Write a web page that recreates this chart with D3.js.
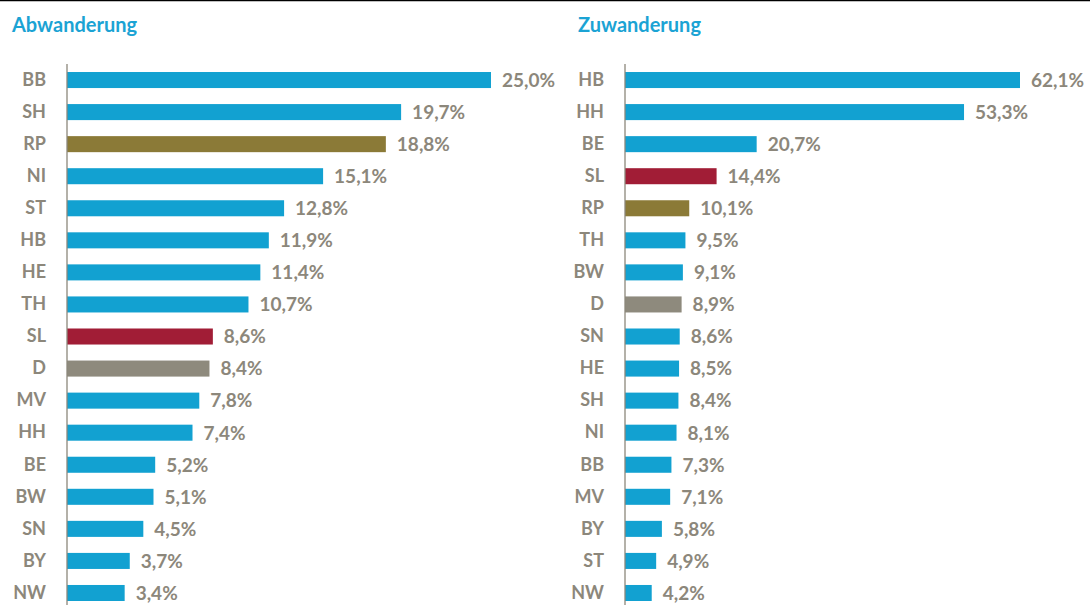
<!DOCTYPE html>
<html>
<head>
<meta charset="utf-8">
<script src="https://cdn.jsdelivr.net/npm/d3@7"></script>
<style>
  body { margin: 0; background: #fff; }
  text { font-family: Lato, "Open Sans", sans-serif; font-weight: bold; }
</style>
</head>
<body>
<div id="chart"></div>
<script>
// Abwanderung (left panel)
const outStates = ["BB","SH","RP","NI","ST","HB","HE","TH","SL","D","MV","HH","BE","BW","SN","BY","NW"];
const outValues = [25.0,19.7,18.8,15.1,12.8,11.9,11.4,10.7,8.6,8.4,7.8,7.4,5.2,5.1,4.5,3.7,3.4];

// Zuwanderung (right panel)
const inStates = ["HB","HH","BE","SL","RP","TH","BW","D","SN","HE","SH","NI","BB","MV","BY","ST","NW"];
const inValues = [62.1,53.3,20.7,14.4,10.1,9.5,9.1,8.9,8.6,8.5,8.4,8.1,7.3,7.1,5.8,4.9,4.2];

const svgWidth = 1090;
const svgHeight = 605;

const colors = {
  base: "#12a1d1",
  RP: "#8b7a37",
  SL: "#a11d36",
  D: "#8e8a7d"
};
const textGrey = "#8c877b";
const titleBlue = "#1ba3d4";

const svg = d3.select("#chart")
  .append("svg")
  .attr("width", svgWidth)
  .attr("height", svgHeight);

// thin top border line
svg.append("line")
  .attr("x1", 0).attr("x2", svgWidth)
  .attr("y1", 0.5).attr("y2", 0.5)
  .attr("stroke", "#000")
  .attr("stroke-width", 1.5);

function drawPanel(title, states, values, opts) {
  const g = svg.append("g");

  const x = d3.scaleLinear()
    .domain([0, opts.max])
    .range([opts.x0, opts.x1]);

  const y = d3.scaleBand()
    .domain(states)
    .range([64, 64 + states.length * 32.06])
    .paddingInner(0.5)
    .paddingOuter(0.25);

  g.append("text")
    .attr("x", opts.titleX)
    .attr("y", 32)
    .attr("fill", titleBlue)
    .attr("font-size", 20)
    .text(title);

  g.selectAll("rect")
    .data(states)
    .enter()
    .append("rect")
    .attr("x", x(0))
    .attr("y", d => y(d))
    .attr("width", (d, i) => x(values[i]) - x(0))
    .attr("height", y.bandwidth())
    .attr("fill", d => colors[d] || colors.base);

  // category axis
  const axis = g.append("g")
    .attr("transform", `translate(${x(0)},0)`)
    .call(d3.axisLeft(y).tickSize(0).tickPadding(opts.x0 - opts.labelEnd));
  axis.select(".domain")
    .attr("stroke", "#8c877b")
    .attr("stroke-width", 1.3)
    .attr("d", `M0,64V${svgHeight}`);
  axis.selectAll("text")
    .attr("fill", textGrey)
    .attr("font-size", 18)
    .attr("font-family", "Lato, 'Open Sans', sans-serif")
    .attr("font-weight", "bold");

  // value labels
  g.selectAll(".val")
    .data(states)
    .enter()
    .append("text")
    .attr("class", "val")
    .attr("x", (d, i) => x(values[i]) + 11)
    .attr("y", d => y(d) + y.bandwidth() / 2)
    .attr("dy", "0.36em")
    .attr("fill", textGrey)
    .attr("font-size", 19)
    .text((d, i) => values[i].toFixed(1).replace(".", ",") + "%");
}

drawPanel("Abwanderung", outStates, outValues,
  { max: 25, x0: 67, x1: 491, labelEnd: 46, titleX: 12 });
drawPanel("Zuwanderung", inStates, inValues,
  { max: 62.1, x0: 625, x1: 1020, labelEnd: 604, titleX: 578 });
</script>
</body>
</html>
